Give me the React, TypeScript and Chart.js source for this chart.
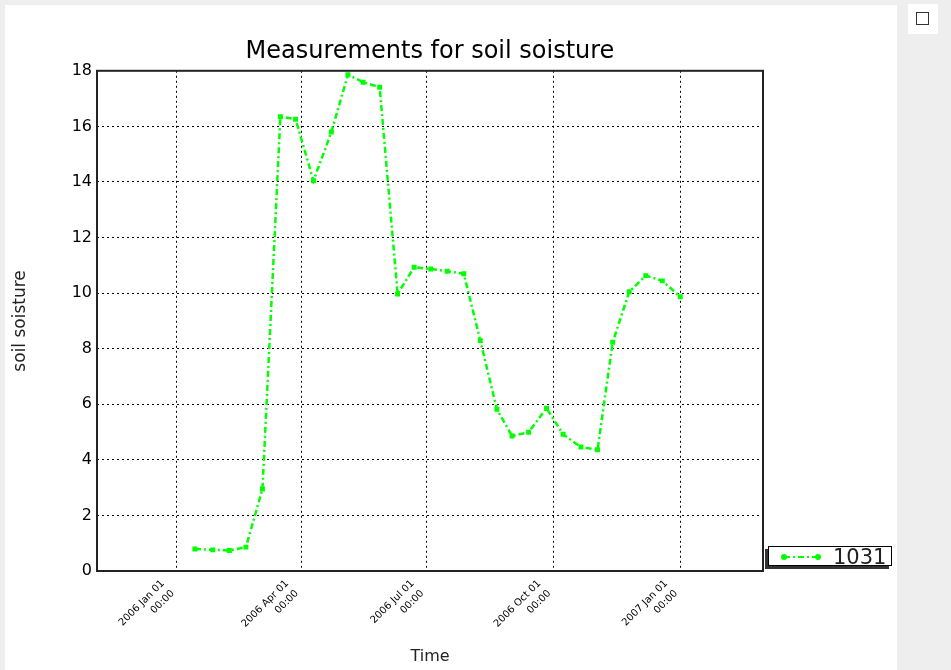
import React, { useEffect, useRef } from "react";
import { Chart, registerables } from "chart.js";

Chart.register(...registerables);

const chartTitle = "Measurements for soil soisture";
const xAxisTitle = "Time";
const yAxisTitle = "soil soisture";
const seriesName = "1031";

const sampleDates = [
  "2006-01-14", "2006-01-27", "2006-02-08", "2006-02-20", "2006-03-04",
  "2006-03-17", "2006-03-28", "2006-04-10", "2006-04-23", "2006-05-05",
  "2006-05-16", "2006-05-28", "2006-06-10", "2006-06-22", "2006-07-04",
  "2006-07-16", "2006-07-28", "2006-08-09", "2006-08-21", "2006-09-01",
  "2006-09-13", "2006-09-26", "2006-10-08", "2006-10-21", "2006-11-02",
  "2006-11-13", "2006-11-25", "2006-12-07", "2006-12-19", "2007-01-01",
];

const soilValues = [
  0.79, 0.76, 0.74, 0.86, 2.95,
  16.35, 16.26, 14.04, 15.8, 17.86,
  17.59, 17.41, 9.97, 10.93, 10.87,
  10.79, 10.7, 8.29, 5.82, 4.86,
  4.99, 5.86, 4.92, 4.46, 4.36,
  8.23, 10.05, 10.63, 10.44, 9.87,
];

const tickDates = ["2006-01-01", "2006-04-01", "2006-07-01", "2006-10-01", "2007-01-01"];
const tickLabels = [
  ["2006 Jan 01", "00:00"],
  ["2006 Apr 01", "00:00"],
  ["2006 Jul 01", "00:00"],
  ["2006 Oct 01", "00:00"],
  ["2007 Jan 01", "00:00"],
];
const xRange = ["2005-11-04", "2007-03-02"];
const yMin = 0;
const yMax = 18;
const yStep = 2;

const DAY_MS = 86400000;
const toDay = (s: string) => Date.parse(s + "T00:00:00Z") / DAY_MS;

const GREEN = "#00ff00";
const LINE_DASH = [6, 3, 2, 3];
const FONT = "'DejaVu Sans'";

const framePlugin = {
  id: "frameBorder",
  afterDatasetsDraw(chart: any) {
    const { ctx, chartArea } = chart;
    ctx.save();
    ctx.strokeStyle = "#222";
    ctx.lineWidth = 2;
    ctx.setLineDash([]);
    ctx.strokeRect(chartArea.left, chartArea.top, chartArea.right - chartArea.left, chartArea.bottom - chartArea.top);
    ctx.restore();
  },
};

const boxLegendPlugin = {
  id: "boxLegend",
  afterDraw(chart: any) {
    const { ctx, chartArea } = chart;
    const x = chartArea.right + 5;
    const y = chartArea.bottom - 25;
    const w = 124;
    const h = 20;
    ctx.save();
    ctx.fillStyle = "#333";
    ctx.fillRect(x - 3, y + 3, w, h);
    ctx.fillStyle = "#fff";
    ctx.fillRect(x, y, w, h);
    ctx.strokeStyle = "#000";
    ctx.lineWidth = 1;
    ctx.strokeRect(x + 0.5, y + 0.5, w - 1, h - 1);
    const ly = y + h / 2 + 1;
    ctx.strokeStyle = GREEN;
    ctx.lineWidth = 2;
    ctx.setLineDash(LINE_DASH);
    ctx.beginPath();
    ctx.moveTo(x + 16, ly);
    ctx.lineTo(x + 50, ly);
    ctx.stroke();
    ctx.setLineDash([]);
    ctx.fillStyle = GREEN;
    [x + 16, x + 50].forEach((cx) => {
      ctx.beginPath();
      ctx.arc(cx, ly, 3, 0, Math.PI * 2);
      ctx.fill();
    });
    ctx.fillStyle = "#222";
    ctx.font = "21px 'DejaVu Sans'";
    ctx.textBaseline = "alphabetic";
    ctx.textAlign = "left";
    ctx.fillText(seriesName, x + 65, y + h - 2);
    ctx.restore();
  },
};

function SoilChart() {
  const ref = useRef<HTMLCanvasElement | null>(null);
  useEffect(() => {
    if (!ref.current) return;
    const tickValues = tickDates.map(toDay);
    const data = sampleDates.map((d, i) => ({ x: toDay(d), y: soilValues[i] }));
    const chart = new Chart(ref.current, {
      type: "line",
      data: {
        datasets: [
          {
            label: seriesName,
            data,
            borderColor: GREEN,
            backgroundColor: GREEN,
            borderWidth: 2.5,
            borderDash: LINE_DASH,
            pointStyle: "rect",
            pointRadius: 3.5,
            pointBorderWidth: 0,
            pointBackgroundColor: GREEN,
            tension: 0,
            fill: false,
          },
        ],
      },
      options: {
        animation: false,
        responsive: false,
        maintainAspectRatio: false,
        layout: { padding: { left: 0, right: 134, top: 0, bottom: 0 } },
        font: { family: FONT },
        plugins: {
          legend: { display: false },
          tooltip: { enabled: false },
          title: {
            display: true,
            text: chartTitle,
            fullSize: false,
            color: "#000",
            font: { family: FONT, size: 24, weight: "normal" },
            padding: { top: 32, bottom: 5 },
          },
        },
        scales: {
          x: {
            type: "linear",
            min: toDay(xRange[0]),
            max: toDay(xRange[1]),
            afterBuildTicks: (axis: any) => {
              axis.ticks = tickValues.map((v) => ({ value: v }));
            },
            afterFit: (s: any) => {
              s.height = 99;
            },
            ticks: {
              autoSkip: false,
              minRotation: 45,
              maxRotation: 45,
              padding: 6,
              labelOffset: -14,
              color: "#000",
              font: { family: FONT, size: 10, lineHeight: 1.4 },
              callback: (v: any) => {
                const i = tickValues.findIndex((t) => Math.abs(t - v) < 0.01);
                return i >= 0 ? tickLabels[i] : "";
              },
            },
            grid: { color: "#000", lineWidth: 1, drawTicks: false },
            border: { display: false, dash: [2, 3] },
            title: {
              display: true,
              text: xAxisTitle,
              color: "#222",
              font: { family: FONT, size: 16 },
              padding: { top: 0, bottom: 4 },
            },
          },
          y: {
            type: "linear",
            min: yMin,
            max: yMax,
            afterFit: (s: any) => {
              s.width = 92;
            },
            ticks: {
              stepSize: yStep,
              padding: 5,
              color: "#000",
              font: { family: FONT, size: 16 },
            },
            grid: { color: "#000", lineWidth: 1, drawTicks: false },
            border: { display: false, dash: [2, 3] },
            title: {
              display: true,
              text: yAxisTitle,
              color: "#222",
              font: { family: FONT, size: 17 },
              padding: { top: 5, bottom: 0 },
            },
          },
        },
      },
      plugins: [framePlugin, boxLegendPlugin],
    } as any);
    return () => chart.destroy();
  }, []);
  return <canvas ref={ref} width={892} height={665} style={{ display: "block" }} />;
}

export default function App() {
  return (
    <div style={{ position: "absolute", left: 0, top: 0, width: 951, height: 670, background: "#eeeeee", overflow: "hidden" }}>
      <div style={{ position: "absolute", left: 5, top: 5, width: 892, height: 665, background: "#ffffff" }}>
        <SoilChart />
      </div>
      <div style={{ position: "absolute", left: 908, top: 4, width: 30, height: 30, background: "#ffffff" }}>
        <div style={{ position: "absolute", left: 8, top: 8, width: 13, height: 13, border: "1px solid #333", boxSizing: "border-box" }} />
      </div>
    </div>
  );
}
